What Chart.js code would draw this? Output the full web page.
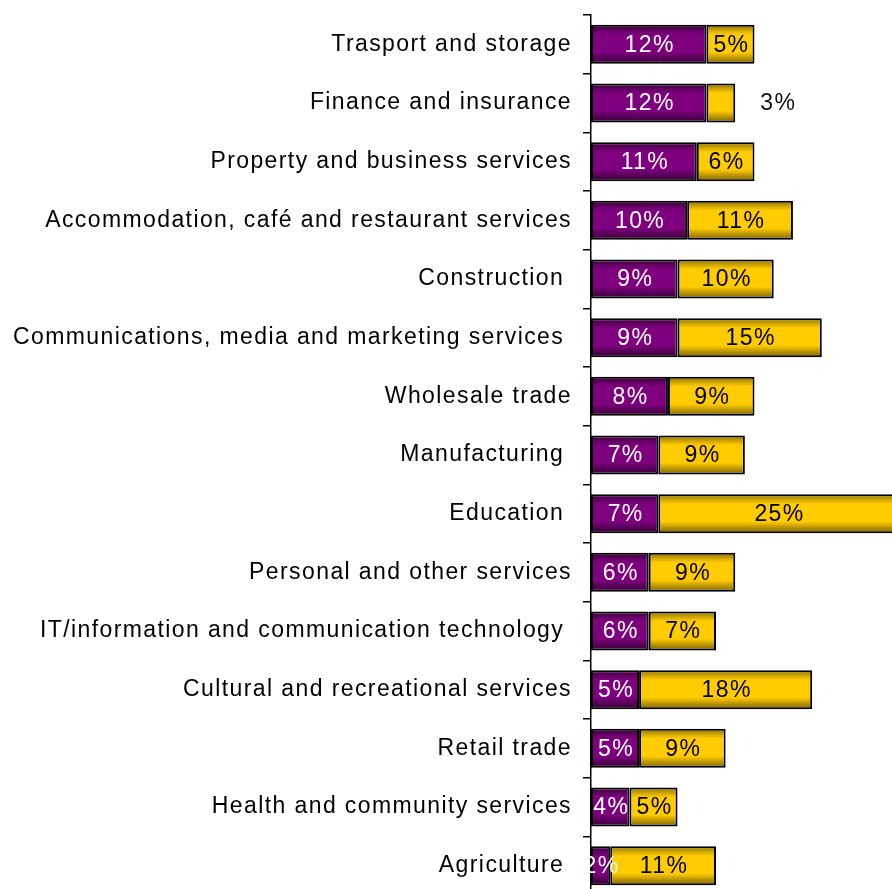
<!DOCTYPE html>
<html>
<head>
<meta charset="utf-8">
<script src="https://cdn.jsdelivr.net/npm/chart.js@4/dist/chart.umd.min.js"></script>
<style>
  html, body { margin: 0; padding: 0; background: #fff; overflow: hidden; }
  #wrap { width: 892px; height: 896px; }
</style>
</head>
<body>
<div id="wrap"><canvas id="sectorChart"></canvas></div>
<script>
const sectors = [
  "Trasport and storage", "Finance and insurance", "Property and business services",
  "Accommodation, café and restaurant services", "Construction ",
  "Communications, media and marketing services ", "Wholesale trade", "Manufacturing ",
  "Education ", "Personal and other services", "IT/information and communication technology ",
  "Cultural and recreational services", "Retail trade", "Health and community services",
  "Agriculture "
];
const firstShare = [12, 12, 11, 10, 9, 9, 8, 7, 7, 6, 6, 5, 5, 4, 2];
const secondShare = [5, 3, 6, 11, 10, 15, 9, 9, 25, 9, 7, 18, 9, 5, 11];

const FONT = "'Liberation Sans', Arial, sans-serif";
const BAR_PCT = 0.665;
const SPACING = "1.4px";

// dark edges, bright middle, one gradient per bar
function barFill(c, palette) {
  const y = c.chart.scales.y;
  if (c.type !== "data" || !y) return palette[1];
  const row = (y.bottom - y.top) / sectors.length;
  const center = y.getPixelForValue(c.dataIndex);
  const top = center - row * BAR_PCT / 2, bottom = center + row * BAR_PCT / 2;
  if (!isFinite(top) || !isFinite(bottom)) return palette[1];
  const g = c.chart.ctx.createLinearGradient(0, top, 0, bottom);
  g.addColorStop(0, palette[0]);
  g.addColorStop(0.25, palette[1]);
  g.addColorStop(0.7, palette[1]);
  g.addColorStop(1, palette[2]);
  return g;
}
const purple = ["#3a003a", "#7f007f", "#330033"];
const gold = ["#8f7200", "#ffcc00", "#7a6100"];

const textSpacing = {
  id: "textSpacing",
  beforeDraw(chart) { chart.ctx.letterSpacing = SPACING; }
};

const valueLabels = {
  id: "valueLabels",
  afterDatasetsDraw(chart) {
    const ctx = chart.ctx;
    ctx.save();
    ctx.letterSpacing = SPACING;
    ctx.font = "23px " + FONT;
    ctx.textAlign = "center";
    ctx.textBaseline = "middle";
    chart.data.datasets.forEach((ds, i) => {
      chart.getDatasetMeta(i).data.forEach((el, j) => {
        const v = ds.data[j];
        let x = (el.x + el.base) / 2;
        ctx.fillStyle = i === 0 ? "#fff" : "#000";
        if (i === 1 && v < 4) {
          x = el.x + 42;
          ctx.fillStyle = "#111";
        }
        ctx.fillText(v + "%", x + 1, el.y + 1);
      });
    });
    ctx.restore();
  }
};

new Chart(document.getElementById("sectorChart"), {
  type: "bar",
  data: {
    labels: sectors,
    datasets: [
      { data: firstShare, backgroundColor: c => barFill(c, purple), borderColor: "#000", borderWidth: 2, borderSkipped: false },
      { data: secondShare, backgroundColor: c => barFill(c, gold), borderColor: "#000", borderWidth: 2, borderSkipped: false }
    ]
  },
  options: {
    indexAxis: "y",
    responsive: true,
    maintainAspectRatio: false,
    animation: false,
    layout: { padding: { top: 15, right: 0, bottom: 1, left: 0 } },
    datasets: { bar: { barPercentage: BAR_PCT, categoryPercentage: 1 } },
    plugins: { legend: { display: false }, tooltip: { enabled: false } },
    scales: {
      x: { display: false, stacked: true, min: 0, max: 31.3 },
      y: {
        stacked: true,
        afterFit: s => { s.width = 591; s.paddingTop = 0; s.paddingBottom = 0; },
        border: { color: "#000", width: 1.5 },
        grid: { drawOnChartArea: false, drawTicks: true, tickLength: 8, color: "#000", lineWidth: 1.5, offset: true },
        ticks: { color: "#000", padding: 11, font: { family: FONT, size: 23 } }
      }
    }
  },
  plugins: [textSpacing, valueLabels]
});
</script>
</body>
</html>
